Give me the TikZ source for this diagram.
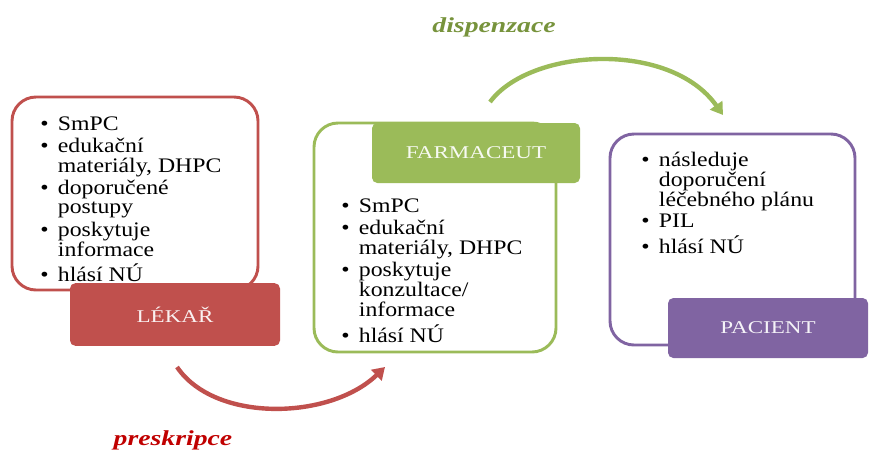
\documentclass[tikz,border=0pt]{standalone}
\usepackage{fontspec}
\setmainfont{Liberation Serif}
\newfontfamily\listfont{Liberation Serif}[FakeStretch=1.15]
\newfontfamily\rolefont{Liberation Serif}[FakeStretch=1.28]
\newfontfamily\flowfont{Liberation Serif}[FakeStretch=1.3]
\usetikzlibrary{arrows.meta,positioning,calc}
\definecolor{lekarred}{HTML}{C0504D}
\definecolor{farmgreen}{HTML}{9BBB59}
\definecolor{pacpurple}{HTML}{8064A2}
\definecolor{preskred}{HTML}{C00000}
\definecolor{dispgreen}{HTML}{77933C}
\newcommand{\bitem}{\textbullet}

\begin{document}
\begin{tikzpicture}[x=0.75pt, y=-0.75pt,
  outerbox/.style={draw=#1, line width=2.2pt, fill=white, rounded corners=18pt},
  rolebox/.style={fill=#1, draw=none, rounded corners=4pt, text=white!92!#1,
                  font=\rolefont\fontsize{13.5}{16}\selectfont},
  itemlist/.style={anchor=base west, inner sep=0pt, font=\listfont\fontsize{15.5}{14.5}\selectfont},
  arr/.style={-{Triangle[length=9pt,width=11pt]}, line width=3.3pt, draw=#1},
  flowlabel/.style={font=\flowfont\bfseries\itshape\fontsize{16}{18}\selectfont, text=#1}
]
  \useasboundingbox (0,0) rectangle (870,454);

  % frames
  \node[outerbox=lekarred, minimum width=184.5pt, minimum height=144.75pt] (lekarframe) at (135,193.5) {};
  \node[outerbox=farmgreen, minimum width=181.5pt, minimum height=171.75pt] (farmframe) at (435,237.5) {};
  \node[outerbox=pacpurple, minimum width=183.75pt, minimum height=158.25pt] (pacframe) at (732.5,239.5) {};

  % lists
  \node[itemlist] (lekarlist) at (40,130) {\begin{tabular}[t]{@{}l@{\hspace{7pt}}l@{}}
    \bitem & SmPC\\[1.5pt]
    \bitem & edukační\\
           & materiály, DHPC\\[1.5pt]
    \bitem & doporučené\\
           & postupy\\[1.5pt]
    \bitem & poskytuje\\
           & informace\\[1.5pt]
    \bitem & hlásí NÚ
  \end{tabular}};
  \node[itemlist] (farmlist) at (341,212) {\begin{tabular}[t]{@{}l@{\hspace{7pt}}l@{}}
    \bitem & SmPC\\[1.5pt]
    \bitem & edukační\\
           & materiály, DHPC\\[1.5pt]
    \bitem & poskytuje\\
           & konzultace/\\
           & informace\\[1.5pt]
    \bitem & hlásí NÚ
  \end{tabular}};
  \node[itemlist] (paclist) at (641,166) {\begin{tabular}[t]{@{}l@{\hspace{7pt}}l@{}}
    \bitem & následuje\\
           & doporučení\\
           & léčebného plánu\\[1.5pt]
    \bitem & PIL\\[1.5pt]
    \bitem & hlásí NÚ
  \end{tabular}};

  % role labels
  \node[rolebox=lekarred, minimum width=157.5pt, minimum height=47pt] (lekar) at (175,314.5) {LÉKAŘ};
  \node[rolebox=farmgreen, minimum width=156pt, minimum height=45pt] (farmaceut) at (476,153) {FARMACEUT};
  \node[rolebox=pacpurple, minimum width=150pt, minimum height=45pt] (pacient) at (768,328) {PACIENT};

  % flow arrows
  \coordinate (preskA) at (177,367);
  \coordinate (preskB) at (385,367);
  \coordinate (dispA) at (490,102);
  \coordinate (dispB) at (723,115);
  \draw[arr=lekarred] (preskA) .. controls (215,423) and (330,420) .. (preskB);
  \draw[arr=farmgreen] (dispA) .. controls (530,48) and (670,40) .. (dispB);
  \node[flowlabel=preskred] (preskripce) at (173,440) {preskripce};
  \node[flowlabel=dispgreen] (dispenzace) at (494,27) {dispenzace};
\end{tikzpicture}
\end{document}
